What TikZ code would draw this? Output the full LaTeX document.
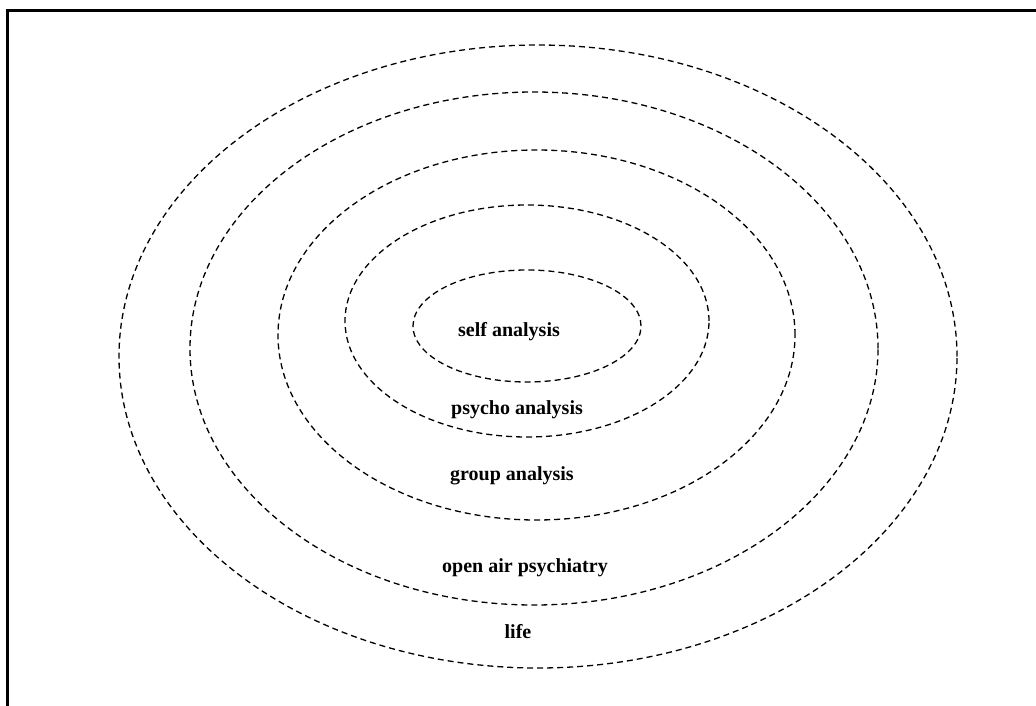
\documentclass[tikz,border=0pt]{standalone}
\usepackage{fontspec}
\setmainfont{Liberation Serif}
\usetikzlibrary{shapes.geometric}
\tikzset{
  ring/.style={draw, ellipse, inner sep=0pt, line width=1.3pt, dash pattern=on 6pt off 4pt},
  lbl/.style={font=\fontsize{20}{22}\selectfont\bfseries, inner sep=0pt},
  frame/.style={line width=2.2pt}
}
\begin{document}
\begin{tikzpicture}[x=1pt,y=-1pt]
\useasboundingbox (0,0) rectangle (1036,706);
\node[ring, minimum width=228pt, minimum height=112pt] (e1) at (527,326) {};
\node[ring, minimum width=364pt, minimum height=232pt] (e2) at (527,321) {};
\node[ring, minimum width=517pt, minimum height=370pt] (e3) at (536.5,335) {};
\node[ring, minimum width=688pt, minimum height=513pt] (e4) at (534,348.5) {};
\node[ring, minimum width=838pt, minimum height=623pt] (e5) at (538,356.5) {};
\node[lbl] (t1) at (509,332) {self analysis};
\node[lbl] (t2) at (517,410) {psycho analysis};
\node[lbl] (t3) at (512,476) {group analysis};
\node[lbl] (t4) at (525,568) {open air psychiatry};
\node[lbl] (t5) at (518,632) {life};
\coordinate (tl) at (7.5,10.5);
\coordinate (tr) at (1036,10.5);
\coordinate (bl) at (7.5,706);
\draw[frame] (tr) -- (tl) -- (bl);
\end{tikzpicture}
\end{document}
